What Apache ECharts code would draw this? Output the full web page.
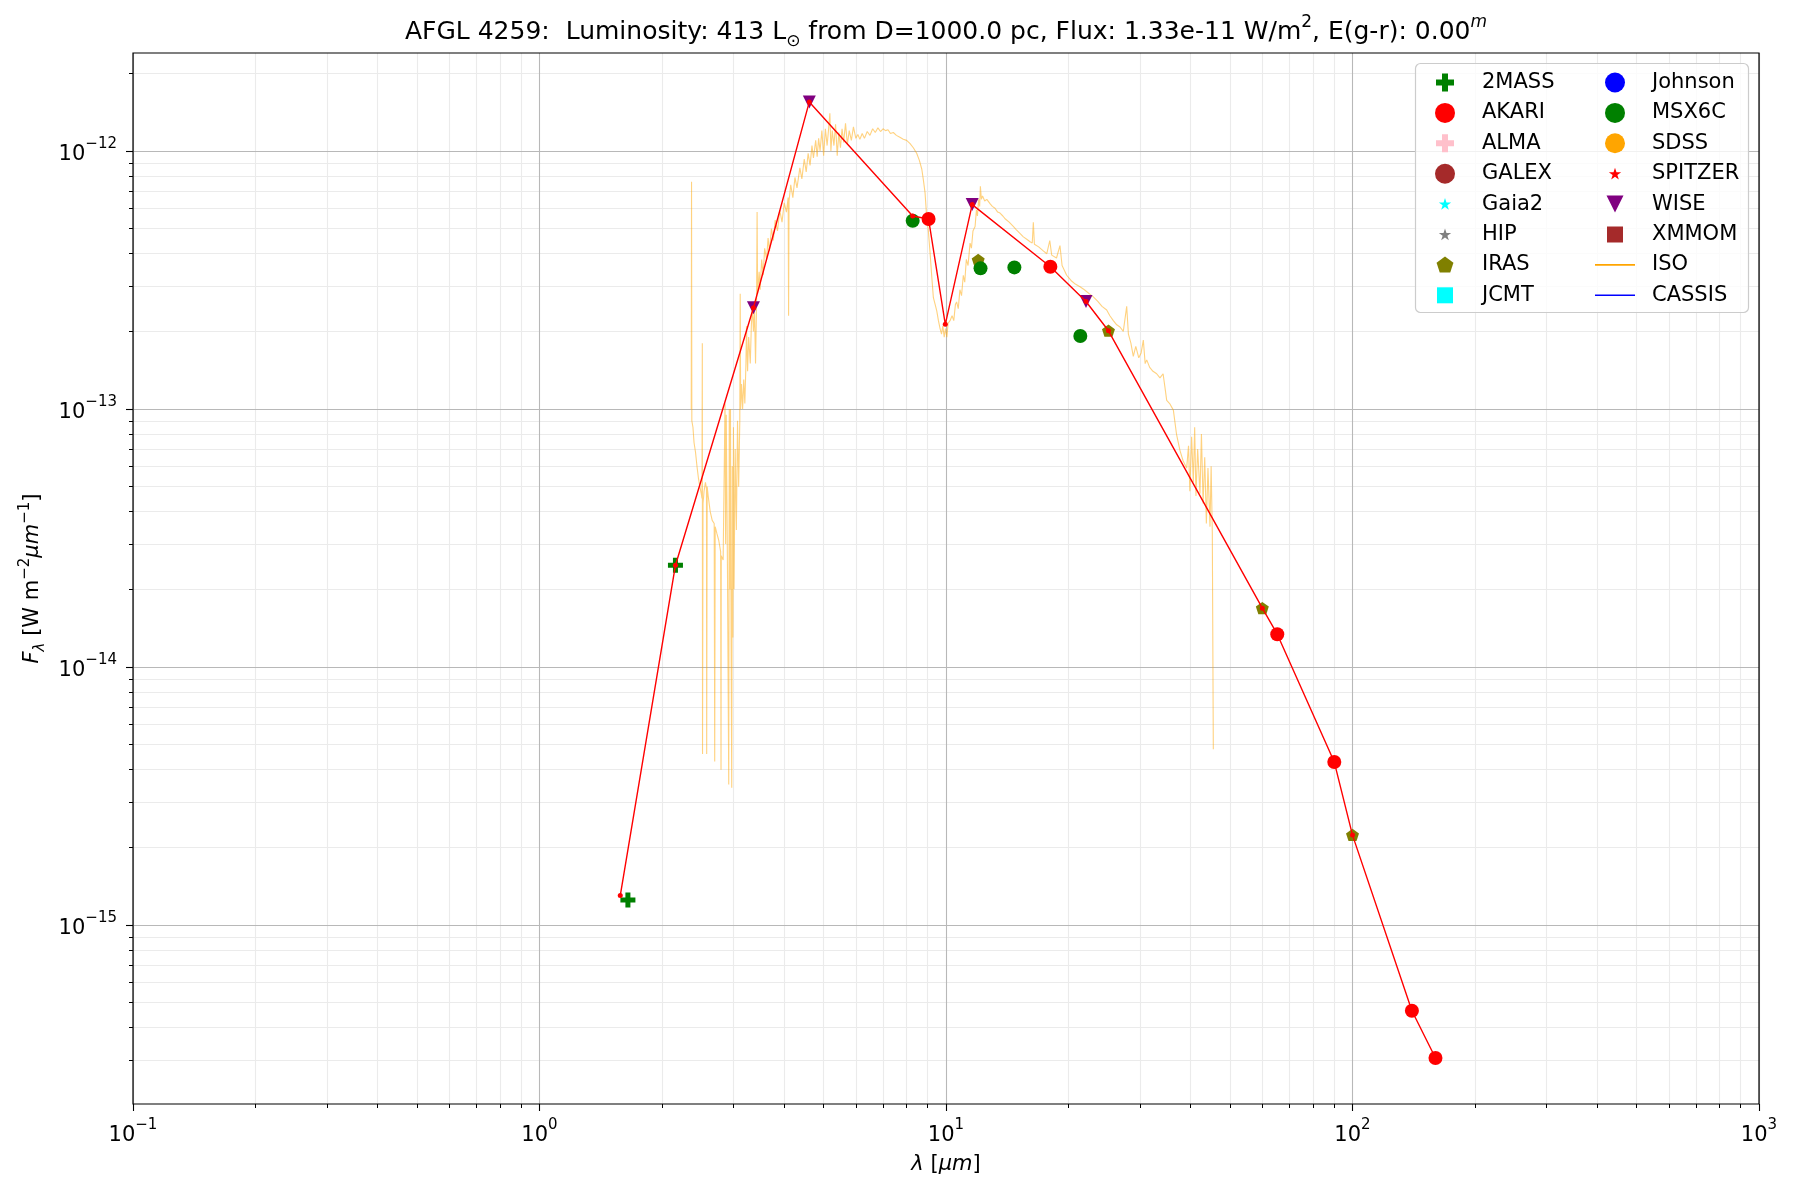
<!DOCTYPE html>
<html>
<head>
<meta charset="utf-8">
<title>AFGL 4259 SED</title>
<script src="https://cdn.jsdelivr.net/npm/echarts@6/dist/echarts.min.js"></script>
<style>
  html, body { margin: 0; padding: 0; background: #fff; }
  #chart { width: 1800px; height: 1200px; }
</style>
</head>
<body>
<div id="chart"></div>
<script>
// wavelength in micron, flux in W m^-2 um^-1
const twomassWave = [1.65, 2.16];
const twomassFlux = [1.25e-15, 2.48e-14];

const akariWave = [9.06, 18.06, 65.3, 90.2, 140, 160];
const akariFlux = [5.45e-13, 3.56e-13, 1.34e-14, 4.28e-15, 4.65e-16, 3.05e-16];

const irasWave = [12.0, 25.1, 60.0, 100];
const irasFlux = [3.78e-13, 2.01e-13, 1.69e-14, 2.23e-15];

const msxWave = [8.28, 12.16, 14.73, 21.4];
const msxFlux = [5.37e-13, 3.51e-13, 3.54e-13, 1.92e-13];

const wiseWave = [3.36, 4.61, 11.6, 22.1];
const wiseFlux = [2.47e-13, 1.55e-12, 6.2e-13, 2.61e-13];

// red connecting line through the photometry
const sedWave = [1.58, 2.16, 3.36, 4.61, 8.28, 9.06, 9.96, 11.6, 18.06, 22.1, 25.1, 60.0, 65.3, 90.2, 100, 140, 160];
const sedFlux = [1.30e-15, 2.48e-14, 2.47e-13, 1.55e-12, 5.6e-13, 5.45e-13, 2.13e-13, 6.2e-13, 3.56e-13, 2.61e-13, 2.01e-13, 1.69e-14, 1.34e-14, 4.28e-15, 2.23e-15, 4.65e-16, 3.05e-16];

// ISO spectrum
const isoWave = [
  2.362, 2.366, 2.370, 2.385, 2.40, 2.42, 2.44, 2.46, 2.48, 2.50, 2.51, 2.515, 2.518, 2.525, 2.54, 2.56, 2.575, 2.578, 2.585, 2.60,
  2.63, 2.66, 2.69, 2.698, 2.705, 2.73, 2.76, 2.79, 2.796, 2.80, 2.83, 2.85, 2.86, 2.87, 2.88, 2.90, 2.921, 2.93, 2.94, 2.95,
  2.96, 2.971, 2.98, 2.99, 3.00, 3.01, 3.03, 3.05, 3.07, 3.09, 3.11, 3.117, 3.125,
  3.14, 3.16, 3.18, 3.20, 3.22, 3.23, 3.25, 3.27, 3.30, 3.32, 3.34, 3.36, 3.38, 3.40, 3.42, 3.43, 3.44, 3.47, 3.49, 3.52,
  3.55, 3.58, 3.62, 3.65, 3.68, 3.72, 3.76, 3.80, 3.85, 3.90, 3.95, 4.00, 4.05, 4.09, 4.10, 4.11, 4.15, 4.20, 4.25, 4.30,
  4.37, 4.42, 4.48, 4.53, 4.58, 4.63, 4.68, 4.72, 4.78,
  4.82, 4.86, 4.90, 4.95, 5.00, 5.05, 5.10, 5.15, 5.18, 5.21, 5.25, 5.30, 5.35, 5.40, 5.45, 5.50, 5.55, 5.60, 5.66, 5.72,
  5.78, 5.85, 5.92, 6.00, 6.07, 6.14, 6.22, 6.30, 6.40, 6.50, 6.60, 6.70, 6.80, 6.90, 7.00, 7.10, 7.20, 7.30, 7.42, 7.55,
  7.70, 7.85, 8.00, 8.15, 8.31, 8.47, 8.60, 8.72, 8.80, 8.88,
  8.96, 9.05, 9.13, 9.22, 9.31, 9.40, 9.49, 9.58, 9.67, 9.75, 9.82, 9.90, 9.97, 10.05, 10.12, 10.23, 10.35, 10.45, 10.55, 10.62,
  10.72, 10.82, 10.92, 11.03, 11.12, 11.22, 11.33, 11.46, 11.55, 11.65, 11.79, 11.88, 11.95, 12.03, 12.10, 12.15, 12.22, 12.30, 12.45, 12.60,
  12.83, 13.0, 13.2, 13.4, 13.58, 13.8, 14.0, 14.3, 14.64, 14.9, 15.2, 15.5, 15.8, 16.1, 16.3, 16.4, 16.5, 16.9, 17.35, 17.7,
  18.0, 18.2, 18.37, 18.7, 19.07, 19.3, 19.81, 20.3, 20.8, 21.36, 21.9, 22.5, 23.04, 23.6, 24.2, 24.85, 25.3, 25.8, 26.3, 26.79,
  27.3, 27.83, 28.1, 28.5, 28.89, 29.3, 29.8, 30.2, 30.58, 30.9, 31.17, 31.7, 32.3, 32.98, 33.6, 34.2, 34.6, 34.91, 35.5, 36.25,
  36.9, 37.64, 38.3, 39.09, 39.5, 39.8, 40.2, 40.59, 40.9, 41.2, 41.6, 42.15, 42.5, 42.9, 43.3, 43.7, 44.1, 44.61, 44.9, 45.2,
  45.46
];
const isoFlux = [
  1.0e-13, 7.6e-13, 9.0e-14, 8.5e-14, 7.4e-14, 6.8e-14, 6.0e-14, 5.4e-14, 5.0e-14, 4.7e-14, 4.5e-14, 1.8e-13, 4.6e-15, 4.3e-14, 4.8e-14, 5.2e-14, 4.9e-14, 4.6e-15, 5.0e-14, 4.6e-14,
  4.0e-14, 3.7e-14, 3.6e-14, 4.3e-15, 3.5e-14, 3.3e-14, 3.1e-14, 2.8e-14, 4.0e-15, 2.7e-14, 2.6e-14, 2.6e-14, 1.05e-13, 3.0e-14, 9.5e-14, 2.4e-14, 3.5e-15, 1.0e-13, 2.0e-14, 1.0e-13,
  1.3e-14, 3.4e-15, 6.0e-14, 1.3e-14, 8.5e-14, 2.0e-14, 7.0e-14, 3.4e-14, 9.0e-14, 5.0e-14, 9.0e-14, 2.8e-13, 1.0e-13,
  1.25e-13, 1.0e-13, 1.3e-13, 1.05e-13, 1.5e-13, 2.1e-13, 1.4e-13, 1.9e-13, 1.5e-13, 2.1e-13, 2.5e-13, 2.0e-13, 2.4e-13, 1.5e-13, 2.6e-13, 5.8e-13, 2.8e-13, 3.4e-13, 2.9e-13, 3.8e-13,
  3.3e-13, 4.2e-13, 3.8e-13, 4.6e-13, 4.1e-13, 5.0e-13, 4.5e-13, 5.4e-13, 4.9e-13, 5.9e-13, 5.3e-13, 6.3e-13, 5.8e-13, 6.6e-13, 2.3e-13, 6.4e-13, 7.4e-13, 6.6e-13, 7.9e-13, 7.2e-13,
  8.6e-13, 7.8e-13, 9.3e-13, 8.3e-13, 9.8e-13, 8.8e-13, 1.05e-12, 9.4e-13, 1.1e-12,
  9.5e-13, 1.12e-12, 1.0e-12, 1.2e-12, 9.6e-13, 1.22e-12, 1.05e-12, 1.25e-12, 1.40e-12, 1.0e-12, 1.2e-12, 1.05e-12, 1.27e-12, 9.6e-13, 1.18e-12, 1.03e-12, 1.22e-12, 1.08e-12, 1.28e-12, 1.06e-12,
  1.2e-12, 1.1e-12, 1.24e-12, 1.12e-12, 1.16e-12, 1.11e-12, 1.17e-12, 1.12e-12, 1.19e-12, 1.15e-12, 1.22e-12, 1.18e-12, 1.23e-12, 1.19e-12, 1.22e-12, 1.20e-12, 1.21e-12, 1.17e-12, 1.18e-12, 1.15e-12,
  1.13e-12, 1.11e-12, 1.10e-12, 1.07e-12, 1.03e-12, 9.8e-13, 9.2e-13, 8.5e-13, 7.7e-13, 6.9e-13,
  5.6e-13, 4.9e-13, 4.1e-13, 3.3e-13, 2.7e-13, 2.55e-13, 2.4e-13, 2.2e-13, 2.05e-13, 1.95e-13, 2.1e-13, 1.9e-13, 2.05e-13, 1.9e-13, 2.15e-13, 2.2e-13, 2.3e-13, 2.2e-13, 2.55e-13, 2.6e-13,
  2.45e-13, 2.9e-13, 2.75e-13, 3.3e-13, 3.1e-13, 3.8e-13, 3.6e-13, 4.4e-13, 4.2e-13, 4.9e-13, 5.1e-13, 5.9e-13, 5.6e-13, 6.5e-13, 6.1e-13, 7.3e-13, 6.5e-13, 6.7e-13, 6.4e-13, 6.5e-13,
  6.25e-13, 6.1e-13, 6.0e-13, 5.8e-13, 5.75e-13, 5.6e-13, 5.45e-13, 5.3e-13, 5.1e-13, 4.95e-13, 4.8e-13, 4.65e-13, 4.55e-13, 4.45e-13, 4.4e-13, 5.3e-13, 4.35e-13, 4.25e-13, 4.1e-13, 4.0e-13,
  4.5e-13, 3.95e-13, 3.9e-13, 3.85e-13, 4.3e-13, 3.6e-13, 3.3e-13, 3.15e-13, 3.05e-13, 2.98e-13, 2.9e-13, 2.8e-13, 2.72e-13, 2.62e-13, 2.5e-13, 2.42e-13, 2.3e-13, 2.2e-13, 2.12e-13, 2.08e-13,
  2.0e-13, 2.5e-13, 1.95e-13, 1.8e-13, 1.6e-13, 1.75e-13, 1.58e-13, 1.65e-13, 1.85e-13, 1.5e-13, 1.55e-13, 1.45e-13, 1.4e-13, 1.37e-13, 1.32e-13, 1.37e-13, 1.2e-13, 1.08e-13, 1.05e-13, 9.9e-14,
  8.0e-14, 6.9e-14, 6.3e-14, 5.9e-14, 7.2e-14, 4.8e-14, 7.8e-14, 5.2e-14, 8.5e-14, 4.6e-14, 7.0e-14, 4.7e-14, 8.0e-14, 4.3e-14, 6.5e-14, 3.6e-14, 5.9e-14, 3.5e-14, 6.0e-14, 3.3e-14,
  4.8e-15
];

// axes: log10 of wavelength / flux
const xRange = [0.1, 1000];
const yRange = [2.023e-16, 2.399e-12];
const xMajorExp = [-1, 0, 1, 2, 3];
const yMajorExp = [-15, -14, -13, -12];
const minorMult = [2, 3, 4, 5, 6, 7, 8, 9];

const legendLeft = ['2MASS', 'AKARI', 'ALMA', 'GALEX', 'Gaia2', 'HIP', 'IRAS', 'JCMT'];
const legendRight = ['Johnson', 'MSX6C', 'SDSS', 'SPITZER', 'WISE', 'XMMOM', 'ISO', 'CASSIS'];

const FONT = 'DejaVu Sans';
const lg = Math.log10;
const xMin = lg(xRange[0]), xMax = lg(xRange[1]);
const yMin = lg(yRange[0]), yMax = lg(yRange[1]);

function minorLogs(lo, hi) {
  const out = [];
  for (let d = Math.floor(lo); d <= Math.ceil(hi); d++) {
    minorMult.forEach(k => {
      const v = d + lg(k);
      if (v > lo && v < hi) out.push(v);
    });
  }
  return out;
}
const xMinor = minorLogs(xMin, xMax);
const yMinor = minorLogs(yMin, yMax);

function toPts(w, f) { return w.map((v, i) => [lg(v), lg(f[i])]); }

// marker shapes
function pathStr(pts) {
  return 'M' + pts.map(p => p[0].toFixed(2) + ' ' + p[1].toFixed(2)).join(' L') + ' Z';
}
function plusPts(cx, cy, s, t) {
  const h = s / 2, a = t / 2;
  return [[cx - a, cy - h], [cx + a, cy - h], [cx + a, cy - a], [cx + h, cy - a], [cx + h, cy + a], [cx + a, cy + a],
    [cx + a, cy + h], [cx - a, cy + h], [cx - a, cy + a], [cx - h, cy + a], [cx - h, cy - a], [cx - a, cy - a]];
}
function triDownPts(cx, cy, s) {
  const h = s / 2;
  return [[cx - h, cy - h], [cx + h, cy - h], [cx, cy + h]];
}
function pentPts(cx, cy, r) {
  const pts = [];
  for (let k = 0; k < 5; k++) {
    const a = -Math.PI / 2 + k * 2 * Math.PI / 5;
    pts.push([cx + r * Math.cos(a), cy + r * Math.sin(a)]);
  }
  return pts;
}
function starPts(cx, cy, R) {
  const pts = [];
  for (let k = 0; k < 10; k++) {
    const rad = k % 2 ? R * 0.382 : R;
    const a = -Math.PI / 2 + k * Math.PI / 5;
    pts.push([cx + rad * Math.cos(a), cy + rad * Math.sin(a)]);
  }
  return pts;
}
function squarePts(cx, cy, s) {
  const h = s / 2;
  return [[cx - h, cy - h], [cx + h, cy - h], [cx + h, cy + h], [cx - h, cy + h]];
}
// pad the path with a fixed frame so sizes stay in pixels
function framed(w, h, pts) { return 'path://M0 0 M' + w + ' ' + h + ' ' + pathStr(pts); }

// plot symbols: 20x20 frame, drawn at symbolSize 20
const symPlus = framed(20, 20, plusPts(10, 10, 15, 5));
const symTri = framed(20, 20, triDownPts(10, 10, 13));
const symPent = framed(20, 20, pentPts(10, 10.5, 6.8));

// legend icons: 64x20 frame
const LW = 64, LH = 20;
const icons = {
  plus: framed(LW, LH, plusPts(32, 10, 18, 6)),
  tri: framed(LW, LH, triDownPts(32, 10, 17)),
  pent: framed(LW, LH, pentPts(32, 10.5, 8.9)),
  star: framed(LW, LH, starPts(32, 10.5, 6.5)),
  square: framed(LW, LH, squarePts(32, 10, 16)),
  line: framed(LW, LH, [[12, 9.2], [52, 9.2], [52, 10.8], [12, 10.8]]),
  circle: 'circle'
};

const seriesStyle = {
  '2MASS': { color: '#008000', icon: 'plus' },
  'AKARI': { color: '#ff0000', icon: 'circle' },
  'ALMA': { color: '#ffc0cb', icon: 'plus' },
  'GALEX': { color: '#a52a2a', icon: 'circle' },
  'Gaia2': { color: '#00ffff', icon: 'star' },
  'HIP': { color: '#808080', icon: 'star' },
  'IRAS': { color: '#808000', icon: 'pent' },
  'JCMT': { color: '#00ffff', icon: 'square' },
  'Johnson': { color: '#0000ff', icon: 'circle' },
  'MSX6C': { color: '#008000', icon: 'circle' },
  'SDSS': { color: '#ffa500', icon: 'circle' },
  'SPITZER': { color: '#ff0000', icon: 'star' },
  'WISE': { color: '#800080', icon: 'tri' },
  'XMMOM': { color: '#a52a2a', icon: 'square' },
  'ISO': { color: '#ffa500', icon: 'line' },
  'CASSIS': { color: '#0000ff', icon: 'line' }
};

function scatter(name, data, symbol, size) {
  return {
    name, type: 'scatter', xAxisIndex: 1, yAxisIndex: 1, z: 3,
    data, symbol, symbolSize: size,
    itemStyle: { color: seriesStyle[name].color, opacity: 1, borderWidth: 0 },
    emphasis: { disabled: true }
  };
}

const series = [
  {
    name: 'ISO', type: 'line', xAxisIndex: 1, yAxisIndex: 1, z: 2,
    data: toPts(isoWave, isoFlux), symbol: 'none', showSymbol: false,
    lineStyle: { color: '#ffa500', width: 1.1, opacity: 0.5 },
    itemStyle: { color: '#ffa500' },
    emphasis: { disabled: true }
  },
  scatter('2MASS', toPts(twomassWave, twomassFlux), symPlus, 20),
  scatter('AKARI', toPts(akariWave, akariFlux), 'circle', 14),
  scatter('ALMA', [], symPlus, 20),
  scatter('GALEX', [], 'circle', 14),
  scatter('Gaia2', [], 'circle', 8),
  scatter('HIP', [], 'circle', 8),
  scatter('IRAS', toPts(irasWave, irasFlux), symPent, 20),
  scatter('JCMT', [], 'rect', 12),
  scatter('Johnson', [], 'circle', 14),
  scatter('MSX6C', toPts(msxWave, msxFlux), 'circle', 14),
  scatter('SDSS', [], 'circle', 14),
  scatter('SPITZER', [], 'circle', 8),
  scatter('WISE', toPts(wiseWave, wiseFlux), symTri, 20),
  scatter('XMMOM', [], 'rect', 12),
  {
    name: 'CASSIS', type: 'line', xAxisIndex: 1, yAxisIndex: 1, data: [],
    symbol: 'none', lineStyle: { color: '#0000ff', width: 1.5 }, itemStyle: { color: '#0000ff' }
  },
  {
    name: 'sed', type: 'line', xAxisIndex: 1, yAxisIndex: 1, z: 4,
    data: toPts(sedWave, sedFlux), symbol: 'circle', symbolSize: 5, showSymbol: true,
    lineStyle: { color: '#ff0000', width: 1.4 }, itemStyle: { color: '#ff0000' },
    emphasis: { disabled: true }
  }
];

function legendData(names) {
  return names.map(n => ({
    name: n,
    icon: icons[seriesStyle[n].icon],
    itemStyle: { color: seriesStyle[n].color, borderWidth: 0, opacity: 1 }
  }));
}
function legend(names, left) {
  return {
    data: legendData(names), orient: 'vertical', left, top: 72, padding: 0,
    itemWidth: LW, itemHeight: LH, itemGap: 9.4, selectedMode: false, z: 10,
    textStyle: { fontFamily: FONT, fontSize: 21, color: '#000', lineHeight: 20 }
  };
}

const pow10 = v => {
  const e = Math.round(v);
  return '{b|10}{s|' + (e < 0 ? '\u2212' + (-e) : e) + '}';
};
const tickRich = {
  b: { fontFamily: FONT, fontSize: 21, lineHeight: 28, verticalAlign: 'bottom', color: '#000' },
  s: { fontFamily: FONT, fontSize: 15, lineHeight: 13, verticalAlign: 'top', color: '#000' }
};
const nameRich = {
  n: { fontFamily: FONT, fontSize: 21, lineHeight: 30, verticalAlign: 'middle', color: '#000' },
  i: { fontFamily: FONT, fontSize: 21, lineHeight: 30, verticalAlign: 'middle', fontStyle: 'italic', color: '#000' },
  sup: { fontFamily: FONT, fontSize: 15, lineHeight: 15, verticalAlign: 'top', color: '#000' },
  sub: { fontFamily: FONT, fontSize: 15, lineHeight: 15, verticalAlign: 'bottom', fontStyle: 'italic', color: '#000' }
};

const minorAxis = (min, max, pos, vals) => ({
  type: 'value', min, max, position: pos, z: 0,
  axisLine: { show: false, onZero: false }, axisLabel: { show: false },
  axisTick: { show: true, inside: false, length: 4, customValues: vals, lineStyle: { color: '#000', width: 1 } },
  splitLine: { show: true, lineStyle: { color: '#ebebeb', width: 1.1 } }
});

const titleRich = {
  t: { fontFamily: FONT, fontSize: 25, fontWeight: 'normal', lineHeight: 36, verticalAlign: 'middle', color: '#000' },
  sup: { fontFamily: FONT, fontSize: 17, fontWeight: 'normal', lineHeight: 17, verticalAlign: 'top', color: '#000' },
  supi: { fontFamily: FONT, fontSize: 17, fontWeight: 'normal', lineHeight: 17, verticalAlign: 'top', fontStyle: 'italic', color: '#000' },
  sub: { fontFamily: FONT, fontSize: 17, fontWeight: 'normal', lineHeight: 15, verticalAlign: 'bottom', color: '#000' }
};

const option = {
  animation: false,
  backgroundColor: '#fff',
  title: {
    text: '{t|AFGL 4259:  Luminosity: 413 L}{sub|\u2299}{t| from D=1000.0 pc, Flux: 1.33e-11 W/m}{sup|2}{t|, E(g-r): 0.00}{supi|m}',
    left: 946, top: 14, textAlign: 'center', padding: 0,
    textStyle: { fontWeight: 'normal', fontFamily: FONT, rich: titleRich }
  },
  grid: {
    left: 133, right: 41, top: 53, bottom: 96, show: true, z: 5,
    borderColor: '#000', borderWidth: 1.2, backgroundColor: 'transparent',
    outerBoundsMode: 'none'
  },
  legend: [legend(legendLeft, 1413), legend(legendRight, 1583)],
  graphic: [{
    type: 'rect', z: 9, silent: true,
    shape: { x: 1415.5, y: 63.5, width: 333, height: 249, r: 5 },
    style: { fill: 'rgba(255,255,255,0.8)', stroke: '#cccccc', lineWidth: 1.2 }
  }],
  xAxis: [
    minorAxis(xMin, xMax, 'bottom', xMinor),
    {
      type: 'value', min: xMin, max: xMax, position: 'bottom', z: 1,
      axisLine: { show: false, onZero: false },
      axisTick: { show: true, inside: false, length: 7, customValues: xMajorExp, lineStyle: { color: '#000', width: 1.1 } },
      axisLabel: { customValues: xMajorExp, formatter: pow10, rich: tickRich, margin: 14 },
      splitLine: { show: true, lineStyle: { color: '#b8b8b8', width: 1.1 } },
      name: '{i|\u03bb}{n| [}{i|\u03bcm}{n|]}', nameLocation: 'middle', nameGap: 46,
      nameTextStyle: { rich: nameRich }
    }
  ],
  yAxis: [
    minorAxis(yMin, yMax, 'left', yMinor),
    {
      type: 'value', min: yMin, max: yMax, position: 'left', z: 1,
      axisLine: { show: false, onZero: false },
      axisTick: { show: true, inside: false, length: 7, customValues: yMajorExp, lineStyle: { color: '#000', width: 1.1 } },
      axisLabel: { customValues: yMajorExp, formatter: pow10, rich: tickRich, margin: 16 },
      splitLine: { show: true, lineStyle: { color: '#b8b8b8', width: 1.1 } },
      name: '{i|F}{sub|\u03bb}{n| [W m}{sup|\u22122}{i|\u03bcm}{sup|\u22121}{n|]}',
      nameLocation: 'middle', nameRotate: 90, nameGap: 80,
      nameTextStyle: { rich: nameRich }
    }
  ],
  series
};

const chart = echarts.init(document.getElementById('chart'));
chart.setOption(option);
</script>
</body>
</html>
